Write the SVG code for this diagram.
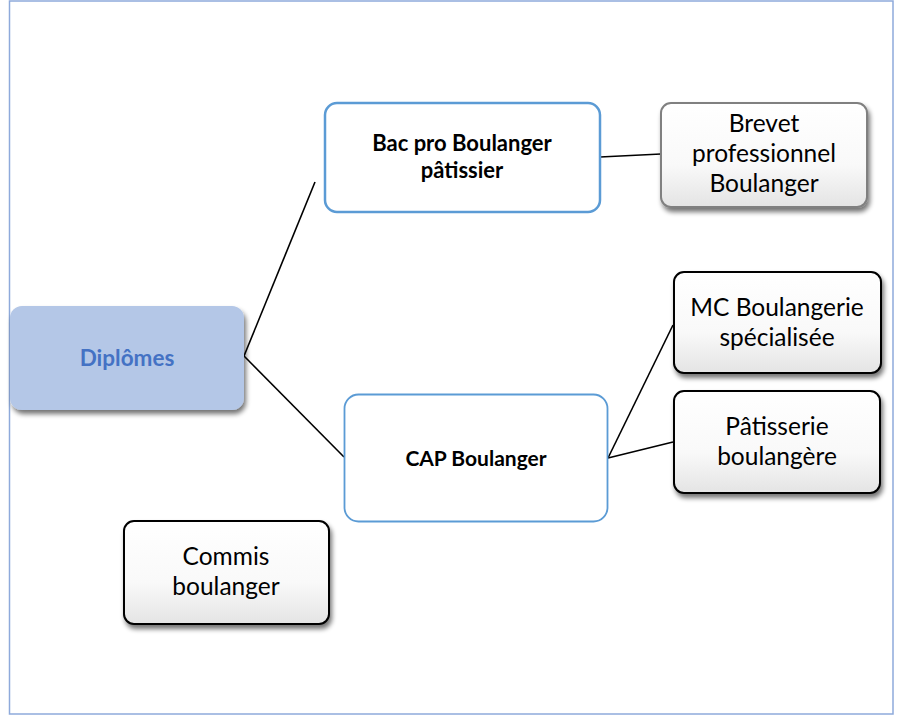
<svg xmlns="http://www.w3.org/2000/svg" width="897" height="716" viewBox="0 0 897 716">
<style>
.t{font-family:Lato,"Open Sans","Liberation Sans",sans-serif;text-anchor:middle;fill:#000}
.n{font-size:24.5px}
.b{font-size:22px;font-weight:bold}
.c{stroke:#000;stroke-width:1.6;fill:none}
.gbox{fill:url(#g);stroke:#000;stroke-width:2}
</style>
<defs>
<linearGradient id="g" x1="0" y1="0" x2="0" y2="1">
<stop offset="0" stop-color="#ffffff"/>
<stop offset="0.6" stop-color="#f9f9f9"/>
<stop offset="1" stop-color="#e4e4e4"/>
</linearGradient>
<filter id="sh" x="-10%" y="-10%" width="125%" height="130%">
<feGaussianBlur in="SourceAlpha" stdDeviation="2.5"/>
<feOffset dx="2" dy="4" result="o"/>
<feComponentTransfer><feFuncA type="linear" slope="0.55"/></feComponentTransfer>
<feMerge><feMergeNode/><feMergeNode in="SourceGraphic"/></feMerge>
</filter>
</defs>
<rect x="0" y="0" width="897" height="716" fill="#fff"/>
<rect x="9.5" y="1" width="883.5" height="713" fill="none" stroke="#8eaadb" stroke-width="1.5"/>
<g id="connectors">
<line class="c" x1="244" y1="356" x2="315" y2="182"/>
<line class="c" x1="244" y1="356" x2="344" y2="457"/>
<line class="c" x1="600" y1="157" x2="661" y2="154"/>
<line class="c" x1="608" y1="458" x2="673" y2="325"/>
<line class="c" x1="608" y1="458" x2="673" y2="442"/>
</g>
<g id="diplomes">
<rect x="10" y="306" width="234" height="104" rx="12" fill="#b4c7e7" filter="url(#sh)"/>
<text class="t" x="127" y="366" font-size="22.5" font-weight="bold" style="fill:#4472c4">Diplômes</text>
</g>
<g id="bacpro">
<rect x="325" y="103" width="275" height="109" rx="12" fill="#fff" stroke="#5b9bd5" stroke-width="2.5"/>
<text class="t b" x="462" y="151">Bac pro Boulanger</text>
<text class="t b" x="462" y="178">pâtissier</text>
</g>
<g id="brevet">
<rect x="661" y="103" width="206" height="104" rx="10" fill="url(#g)" stroke="#808080" stroke-width="2" filter="url(#sh)"/>
<text class="t n" x="764" y="132">Brevet</text>
<text class="t n" x="764" y="162">professionnel</text>
<text class="t n" x="764" y="192">Boulanger</text>
</g>
<g id="cap">
<rect x="344.5" y="394.5" width="263" height="127" rx="14" fill="#fff" stroke="#5b9bd5" stroke-width="1.8"/>
<text class="t" x="476" y="466" font-size="21" font-weight="bold">CAP Boulanger</text>
</g>
<g id="mc">
<rect x="674" y="272" width="207" height="101" rx="10" class="gbox" filter="url(#sh)"/>
<text class="t n" x="777" y="316">MC Boulangerie</text>
<text class="t n" x="777" y="346">spécialisée</text>
</g>
<g id="patisserie">
<rect x="674" y="391" width="206" height="102" rx="10" class="gbox" filter="url(#sh)"/>
<text class="t n" x="777" y="435">Pâtisserie</text>
<text class="t n" x="777" y="465">boulangère</text>
</g>
<g id="commis">
<rect x="124" y="521" width="205" height="103" rx="10" class="gbox" filter="url(#sh)"/>
<text class="t n" x="226" y="565">Commis</text>
<text class="t n" x="226" y="595">boulanger</text>
</g>
</svg>
